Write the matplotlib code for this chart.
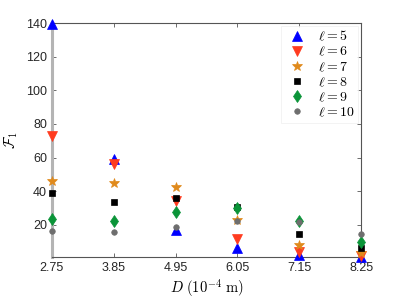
import numpy as np
import matplotlib.pyplot as plt

plt.rcParams['mathtext.fontset'] = 'cm'
plt.rcParams['font.family'] = 'Liberation Sans'

D = [2.75, 3.85, 4.95, 6.05, 7.15, 8.25]
D_labels = ['2.75', '3.85', '4.95', '6.05', '7.15', '8.25']

F_l5 = [139.5, 59, 17, 6.5, 2, 1]
F_l6 = [73, 56, 34, 11.5, 4, 1.5]
F_l7 = [46, 45, 42.5, 23, 8, 3]
F_l8 = [39, 33.5, 36, 30.5, 14.5, 6]
F_l9 = [23.5, 22, 27.5, 30, 22, 10]
F_l10 = [16.5, 15.5, 19, 22, 21.5, 14.5]

series = [
    (F_l5, '^', '#0000ff', 6.5, r'$\ell = 5$'),
    (F_l6, 'v', '#ff3b1f', 6.5, r'$\ell = 6$'),
    (F_l7, '*', '#e08a1c', 7, r'$\ell = 7$'),
    (F_l8, 's', '#000000', 4.5, r'$\ell = 8$'),
    (F_l9, 'd', '#0a9438', 6.5, r'$\ell = 9$'),
    (F_l10, 'o', '#6e6e6e', 4, r'$\ell = 10$'),
]

fig = plt.figure(figsize=(3.99, 2.99), dpi=100)
ax = fig.add_axes([0.130, 0.140, 0.775, 0.783])

for vals, m, c, ms, lab in series:
    ax.plot(D, vals, linestyle='none', marker=m, color=c, markersize=ms,
            markeredgecolor=c, markeredgewidth=0.5, label=lab,
            clip_on=False, zorder=3)

ax.set_xlim(2.75, 8.25)
ax.set_ylim(0.8, 140)
ax.set_xticks(D)
ax.set_xticklabels(D_labels)
ax.set_yticks([20, 40, 60, 80, 100, 120, 140])

ax.tick_params(direction='in', top=True, right=True, labelsize=9,
               length=3, width=0.6, colors='#555555', labelcolor='#262626')
for s in ['top', 'right', 'bottom']:
    ax.spines[s].set_color('#555555')
    ax.spines[s].set_linewidth(0.8)
ax.spines['left'].set_color('#b4b4b4')
ax.spines['left'].set_linewidth(2.2)

ax.set_xlabel(r'$D\ (10^{-4}\ \mathrm{m})$', fontsize=10.5, labelpad=2)
ax.set_ylabel(r'$\mathcal{F}_1$', fontsize=10.5, labelpad=4)

leg = ax.legend(loc='upper right', fontsize=10, frameon=True, fancybox=False,
                borderpad=0.25, labelspacing=0.08, handletextpad=0.6,
                handlelength=1.8, borderaxespad=0.2)
leg.get_frame().set_edgecolor('#eeeeee')
leg.get_frame().set_linewidth(0.6)

fig.savefig('out.png', dpi=100)
